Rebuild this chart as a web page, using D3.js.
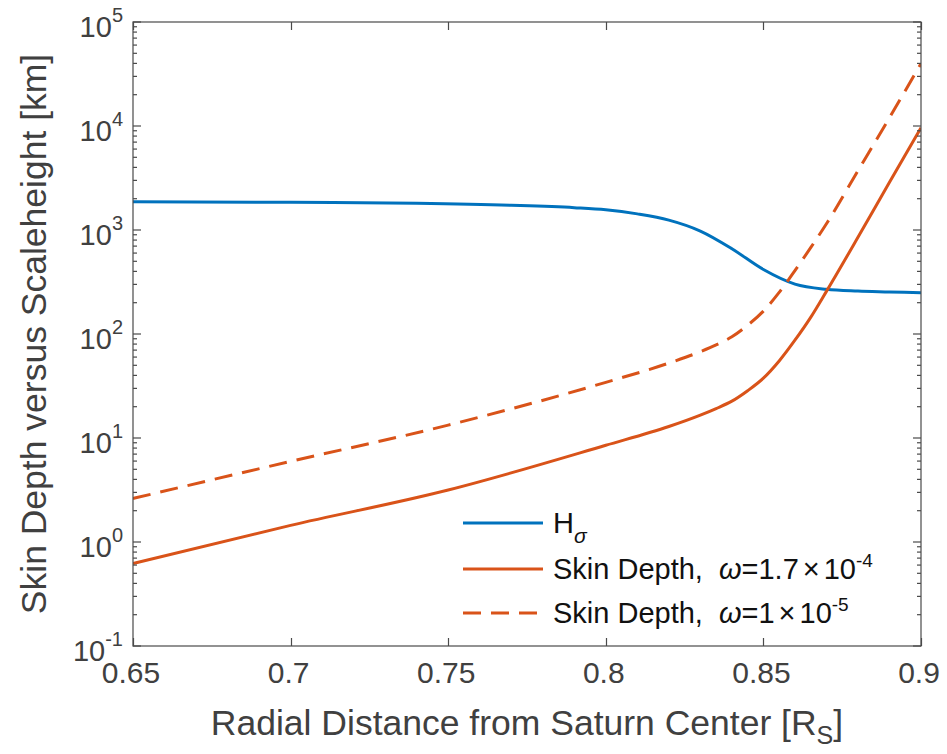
<!DOCTYPE html>
<html>
<head>
<meta charset="utf-8">
<script src="https://cdn.jsdelivr.net/npm/d3@7"></script>
<style>
  html, body { margin: 0; padding: 0; background: #fff; }
  svg { display: block; font-family: "Liberation Sans", Arial, Helvetica, sans-serif; }
</style>
</head>
<body>
<svg id="chart" width="947" height="754"></svg>
<script>
// ---- data ----
const hSigmaX = [0.65, 0.70, 0.74, 0.77, 0.79, 0.80, 0.81, 0.82, 0.83, 0.84, 0.85, 0.86, 0.87, 0.88, 0.89, 0.90];
const hSigmaY = [1871, 1845, 1807, 1730, 1641, 1567, 1429, 1245, 977, 661, 417, 302, 269, 259, 254, 249];

const skin1X = [0.65, 0.70, 0.75, 0.80, 0.82, 0.83, 0.835, 0.84, 0.845, 0.85, 0.855, 0.86, 0.865, 0.87, 0.88, 0.89, 0.90];
const skin1Y = [0.621, 1.445, 3.16, 8.51, 12.9, 16.6, 19.2, 22.6, 28.5, 37.6, 55.0, 87.1, 144.5, 257, 851, 2884, 9640];

const skin2X = [0.65, 0.70, 0.75, 0.80, 0.82, 0.83, 0.835, 0.84, 0.845, 0.85, 0.855, 0.86, 0.865, 0.87, 0.88, 0.89, 0.90];
const skin2Y = [2.62, 5.96, 13.3, 34.3, 52.5, 67.6, 78.5, 94.0, 121.5, 166, 251, 407, 676, 1148, 3715, 12020, 39810];

const xTicks = [0.65, 0.7, 0.75, 0.8, 0.85, 0.9];
const xTickLabels = ["0.65", "0.7", "0.75", "0.8", "0.85", "0.9"];
const yExponents = [-1, 0, 1, 2, 3, 4, 5];

const seriesNames = ["H", "Skin Depth,", "Skin Depth,"];
const seriesColors = ["#0072BD", "#D95319", "#D95319"];

// ---- layout ----
const svg = d3.select("#chart");
const L = 133, R = 921, T = 22, B = 646;
const axisColor = "#4a4a4a", textColor = "#404040";

const x = d3.scaleLinear().domain([0.65, 0.9]).range([L, R]);
const y = d3.scaleLog().domain([0.1, 1e5]).range([B, T]);

// ---- lines ----
const line = d3.line().x(d => x(d[0])).y(d => y(d[1])).curve(d3.curveMonotoneX);
svg.append("clipPath").attr("id", "clip").append("rect")
  .attr("x", L).attr("y", T).attr("width", R - L).attr("height", B - T);
const g = svg.append("g").attr("clip-path", "url(#clip)");

g.append("path").datum(d3.zip(hSigmaX, hSigmaY)).attr("d", line)
  .attr("fill", "none").attr("stroke", seriesColors[0]).attr("stroke-width", 3);
g.append("path").datum(d3.zip(skin1X, skin1Y)).attr("d", line)
  .attr("fill", "none").attr("stroke", seriesColors[1]).attr("stroke-width", 3);
g.append("path").datum(d3.zip(skin2X, skin2Y)).attr("d", line)
  .attr("fill", "none").attr("stroke", seriesColors[2]).attr("stroke-width", 3)
  .attr("stroke-dasharray", "18,10");

// ---- axes box & ticks ----
const ax = svg.append("g").attr("stroke", axisColor).attr("stroke-width", 1.2).attr("fill", "none");
ax.append("rect").attr("x", L).attr("y", T).attr("width", R - L).attr("height", B - T);

xTicks.forEach(t => {
  const px = Math.round(x(t)) + 0.5;
  ax.append("line").attr("x1", px).attr("x2", px).attr("y1", B).attr("y2", B - 8);
  ax.append("line").attr("x1", px).attr("x2", px).attr("y1", T).attr("y2", T + 8);
});
yExponents.forEach(e => {
  const py = y(Math.pow(10, e));
  ax.append("line").attr("x1", L).attr("x2", L + 8).attr("y1", py).attr("y2", py);
  ax.append("line").attr("x1", R).attr("x2", R - 8).attr("y1", py).attr("y2", py);
  if (e < 5) {
    for (let m = 2; m <= 9; m++) {
      const pm = y(m * Math.pow(10, e));
      ax.append("line").attr("x1", L).attr("x2", L + 4).attr("y1", pm).attr("y2", pm);
      ax.append("line").attr("x1", R).attr("x2", R - 4).attr("y1", pm).attr("y2", pm);
    }
  }
});

// ---- tick labels ----
const xl = svg.append("g").attr("fill", textColor).attr("font-size", 30).attr("text-anchor", "middle");
xTicks.forEach((t, i) => {
  xl.append("text").attr("x", x(t) - 2).attr("y", 683).text(xTickLabels[i]);
});
const yl = svg.append("g").attr("fill", textColor).attr("text-anchor", "end");
yExponents.forEach(e => {
  const py = y(Math.pow(10, e));
  const tx = yl.append("text").attr("x", 123).attr("y", py + 15).attr("font-size", 29);
  tx.append("tspan").text("10");
  tx.append("tspan").attr("dy", -15).attr("font-size", 20).text(String(e));
});

// ---- axis titles ----
const xt = svg.append("text").attr("x", (L + R) / 2).attr("y", 735).attr("text-anchor", "middle")
  .attr("font-size", 35.5).attr("fill", textColor);
xt.append("tspan").text("Radial Distance from Saturn Center [R");
xt.append("tspan").attr("dy", 9).attr("font-size", 25).text("S");
xt.append("tspan").attr("dy", -9).text("]");

svg.append("text").attr("transform", `translate(46,${(T + B) / 2}) rotate(-90)`)
  .attr("text-anchor", "middle").attr("font-size", 35.5).attr("fill", textColor)
  .text("Skin Depth versus Scaleheight [km]");

// ---- legend ----
const leg = svg.append("g");
const rows = [523, 569, 613];
const dashes = [null, null, "18,10"];
rows.forEach((ry, i) => {
  leg.append("line").attr("x1", 463).attr("x2", 543).attr("y1", ry).attr("y2", ry)
    .attr("stroke", seriesColors[i]).attr("stroke-width", 3)
    .attr("stroke-dasharray", dashes[i]);
});
const legText = leg.append("g").attr("fill", "#111").attr("font-size", 29);
// row 1: H_sigma
const t1 = legText.append("text").attr("x", 553).attr("y", rows[0] + 10);
t1.append("tspan").text(seriesNames[0]);
t1.append("tspan").attr("dy", 10).attr("font-size", 21).attr("font-style", "italic").text("σ");
// row 2
const t2 = legText.append("text").attr("x", 553).attr("y", rows[1] + 10);
t2.append("tspan").text(seriesNames[1]);
t2.append("tspan").attr("dx", 16).attr("font-style", "italic").text("ω");
t2.append("tspan").text("=1.7");
t2.append("tspan").attr("dx", 4).text("×");
t2.append("tspan").attr("dx", 4).text("10");
t2.append("tspan").attr("dy", -12).attr("font-size", 19).text("-4");
// row 3
const t3 = legText.append("text").attr("x", 553).attr("y", rows[2] + 10);
t3.append("tspan").text(seriesNames[2]);
t3.append("tspan").attr("dx", 16).attr("font-style", "italic").text("ω");
t3.append("tspan").text("=1");
t3.append("tspan").attr("dx", 4).text("×");
t3.append("tspan").attr("dx", 4).text("10");
t3.append("tspan").attr("dy", -12).attr("font-size", 19).text("-5");
</script>
</body>
</html>
